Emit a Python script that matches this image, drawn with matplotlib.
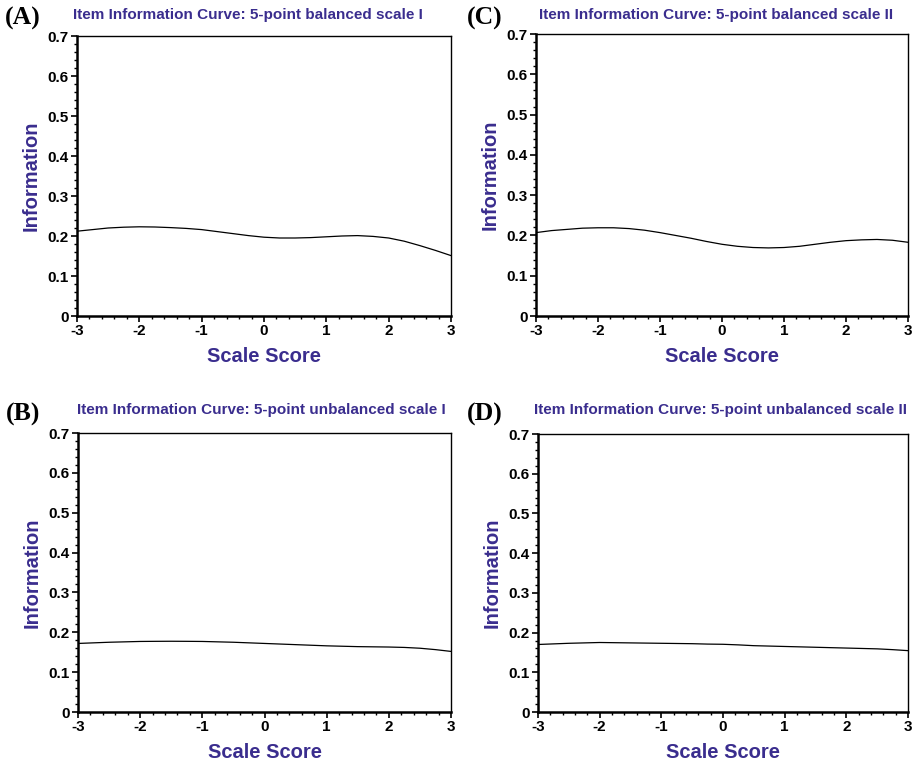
import matplotlib.pyplot as plt
from matplotlib.ticker import MultipleLocator

# scale scores where the curves were read (0.25 steps)
theta = [-3, -2.75, -2.5, -2.25, -2, -1.75, -1.5, -1.25, -1, -0.75, -0.5, -0.25,
         0, 0.25, 0.5, 0.75, 1, 1.25, 1.5, 1.75, 2, 2.25, 2.5, 2.75, 3]

info_a = [0.212, 0.216, 0.220, 0.222, 0.223, 0.2225, 0.221, 0.219, 0.216, 0.211, 0.206, 0.201,
          0.197, 0.195, 0.195, 0.196, 0.198, 0.200, 0.201, 0.199, 0.195, 0.187, 0.176, 0.164, 0.151]
info_c = [0.207, 0.212, 0.215, 0.218, 0.219, 0.219, 0.217, 0.213, 0.207, 0.200, 0.193, 0.185,
          0.178, 0.173, 0.170, 0.169, 0.170, 0.173, 0.178, 0.183, 0.187, 0.189, 0.190, 0.188, 0.183]
info_b = [0.172, 0.1735, 0.175, 0.176, 0.177, 0.1773, 0.1775, 0.1773, 0.177, 0.176, 0.175, 0.1735,
          0.172, 0.1705, 0.169, 0.1675, 0.166, 0.165, 0.164, 0.1635, 0.163, 0.162, 0.160, 0.1565, 0.152]
info_d = [0.170, 0.1715, 0.173, 0.174, 0.175, 0.1745, 0.174, 0.1735, 0.173, 0.1725, 0.172, 0.171,
          0.1705, 0.169, 0.167, 0.166, 0.165, 0.164, 0.163, 0.162, 0.161, 0.160, 0.159, 0.157, 0.1545]

titles = {
    "A": "Item Information Curve: 5-point balanced scale I",
    "C": "Item Information Curve: 5-point balanced scale II",
    "B": "Item Information Curve: 5-point unbalanced scale I",
    "D": "Item Information Curve: 5-point unbalanced scale II",
}

x_ticks = [-3, -2, -1, 0, 1, 2, 3]
y_ticks = [0, 0.1, 0.2, 0.3, 0.4, 0.5, 0.6, 0.7]
y_tick_labels = ["0", "0.1", "0.2", "0.3", "0.4", "0.5", "0.6", "0.7"]

BLUE = "#3a2d8e"
plt.rcParams['font.family'] = ['Liberation Sans', 'DejaVu Sans']

fig = plt.figure(figsize=(9.17, 7.63), dpi=100)
W, H = 917, 763

# panel: key, data, axes box in pixels (left, top, right, bottom), title centre, label pos
panels = [
    ("A", info_a, (77, 36, 451, 316), (248, 15), (5, 18)),
    ("C", info_c, (536, 34, 908, 316), (716, 15), (467, 18)),
    ("B", info_b, (78, 433, 451, 712), (261, 410), (6, 414)),
    ("D", info_d, (538, 434, 908, 712), (720, 410), (467, 414)),
]

for key, vals, (l, t, r, b), (tx, ty), (lx, ly) in panels:
    ax = fig.add_axes([l / W, 1 - b / H, (r - l) / W, (b - t) / H])
    ax.plot(theta, vals, color='black', linewidth=0.9)
    ax.set_xlim(-3, 3)
    ax.set_ylim(0, 0.7)
    ax.set_xticks(x_ticks)
    ax.set_xticklabels([str(v) for v in x_ticks])
    ax.set_yticks(y_ticks)
    ax.set_yticklabels(y_tick_labels)
    ax.xaxis.set_minor_locator(MultipleLocator(0.2))
    ax.yaxis.set_minor_locator(MultipleLocator(0.02))
    ax.tick_params(which='major', direction='out', length=4, width=1.2,
                   labelsize=11, pad=2, top=False, right=False)
    ax.tick_params(which='minor', direction='out', length=2.5, width=1.0,
                   top=False, right=False)
    for lab in ax.get_xticklabels() + ax.get_yticklabels():
        lab.set_fontweight('bold')
    ax.spines['left'].set_linewidth(1.8)
    ax.spines['bottom'].set_linewidth(1.8)
    ax.spines['top'].set_linewidth(1.0)
    ax.spines['right'].set_linewidth(1.0)
    ax.set_xlabel("Scale Score", fontsize=14.5, fontweight='bold', color=BLUE, labelpad=6)
    ax.set_ylabel("Information", fontsize=14.5, fontweight='bold', color=BLUE, labelpad=5)
    fig.text(tx / W, 1 - ty / H, titles[key], ha='center', va='center',
             fontsize=11, fontweight='bold', color=BLUE)
    fig.text(lx / W, 1 - ly / H, "(" + key + ")", ha='left', va='center',
             fontsize=18.5, fontweight='bold', family=['Liberation Serif', 'DejaVu Serif'])

fig.savefig("out.png", dpi=100, facecolor='white')
